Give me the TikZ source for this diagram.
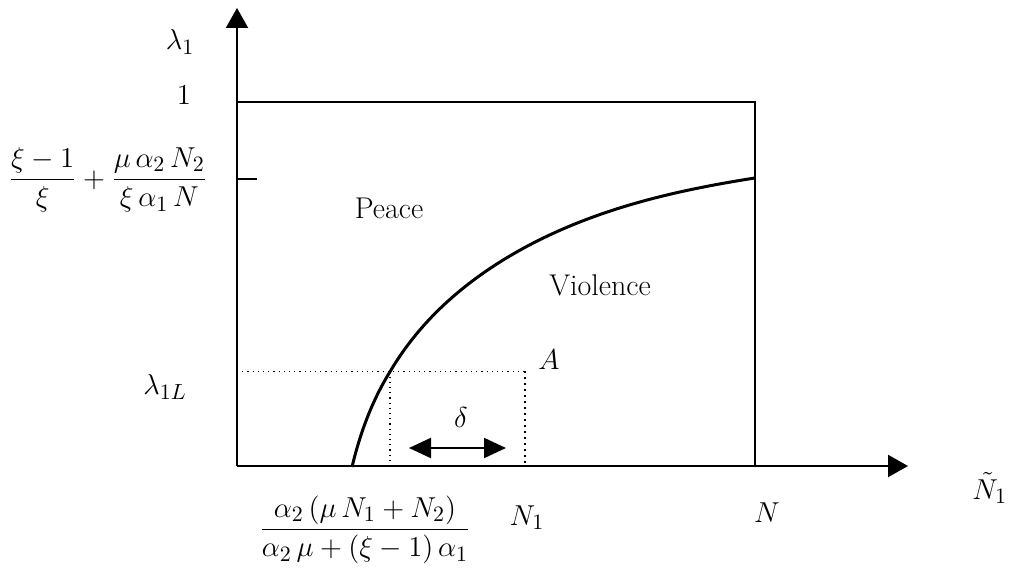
\documentclass[tikz,border=0pt]{standalone}
\usepackage{amsmath}
\usetikzlibrary{arrows.meta}
\begin{document}
\begin{tikzpicture}[x=0.5pt,y=-0.5pt,
  axis/.style={line width=1.1pt,-{Triangle[length=10pt,width=11pt]}},
  boxline/.style={line width=0.8pt},
  curveline/.style={line width=1.5pt,line join=round},
  thindot/.style={line width=0.6pt,dotted},
  thickdot/.style={line width=1pt,dotted},
  dblarrow/.style={line width=1pt,{Triangle[length=11pt,width=10pt]}-{Triangle[length=11pt,width=10pt]}},
  lab/.style={inner sep=0pt,font=\fontsize{15}{18}\selectfont}]
\useasboundingbox (0,0) rectangle (1010,581);
% coordinates
\coordinate (O) at (237,466);
\coordinate (ytip) at (237,8);
\coordinate (xtip) at (908,466);
\coordinate (TL) at (237,102);
\coordinate (TR) at (755,102);
\coordinate (BR) at (755,466);
\coordinate (tickL) at (237,179);
\coordinate (tickR) at (257,179);
\coordinate (P) at (390,371.5);
\coordinate (Pb) at (390,466);
\coordinate (Aa) at (525,371.5);
\coordinate (Ab) at (525,466);
\coordinate (Lh) at (237,371.5);
\coordinate (dL) at (409,448);
\coordinate (dR) at (506,448);
% axes
\draw[axis] (O) -- (ytip);
\draw[axis] (O) -- (xtip);
% box
\draw[boxline] (TL) -- (TR) -- (BR);
\draw[boxline] (tickL) -- (tickR);
% dotted lines
\draw[thindot] (Lh) -- (Aa);
\draw[thindot] (P) -- (Pb);
\draw[thickdot] (Aa) -- (Ab);
% curve
\draw[curveline] plot[domain=0:403,samples=160,smooth,variable=\u]
  ({352+\u},{467-100.4*ln(1+\u/24)-9*max(0,sin((\u-38)*0.49315))});
% delta arrow
\draw[dblarrow] (dL) -- (dR);
% labels
\node[lab] (lam) at (180,42) {$\lambda_1$};
\node[lab] (one) at (184,95) {$1$};
\node[lab] (frac) at (108,180) {$\dfrac{\xi-1}{\xi}+\dfrac{\mu\,\alpha_2\,N_2}{\xi\,\alpha_1\,N}$};
\node[lab] (lamL) at (165,387) {$\lambda_{1L}$};
\node[lab] (bfrac) at (365,530) {$\dfrac{\alpha_2\left(\mu\,N_1+N_2\right)}{\alpha_2\,\mu+(\xi-1)\,\alpha_1}$};
\node[lab] (N1) at (527,518) {$N_1$};
\node[lab] (N) at (767,513) {$N$};
\node[lab] (A) at (549,360) {$A$};
\node[lab] (del) at (461,418) {$\delta$};
\node[lab] (peace) at (389,208) {Peace};
\node[lab] (viol) at (600,285) {Violence};
\node[lab,anchor=west] (Nt) at (972,488) {$\tilde{N}_1$};
\end{tikzpicture}
\end{document}
